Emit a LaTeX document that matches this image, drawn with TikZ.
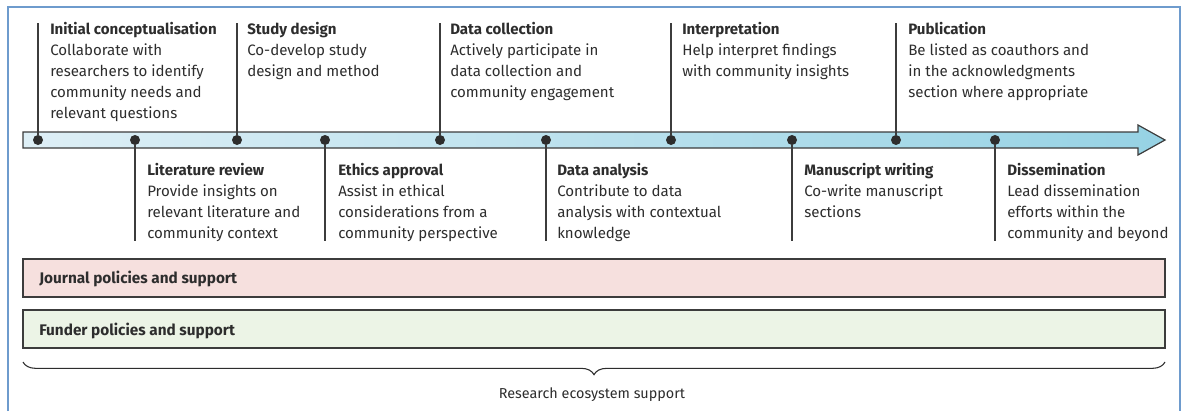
\documentclass[tikz,border=0pt]{standalone}
\usepackage{fontspec}
\setmainfont{Fira Sans}
\usetikzlibrary{decorations.pathreplacing}

\definecolor{frameblue}{RGB}{110,155,205}
\definecolor{arrowlight}{RGB}{222,239,246}
\definecolor{arrowdark}{RGB}{150,210,228}
\definecolor{ink}{RGB}{45,45,45}
\definecolor{stemgray}{RGB}{60,60,60}
\definecolor{journalpink}{RGB}{246,224,222}
\definecolor{funderleaf}{RGB}{236,244,230}

\tikzset{
  dot/.style={circle, fill=ink, inner sep=0pt, minimum size=7.5pt},
  stem/.style={draw=stemgray, line width=0.9pt},
  stage/.style={anchor=base west, align=left, inner sep=0pt, text=ink,
    font=\fontsize{11.3}{15.7}\selectfont},
  policy/.style={draw=stemgray, line width=0.9pt},
  policytext/.style={anchor=base west, inner sep=0pt, text=ink,
    font=\fontsize{11.5}{14}\selectfont\bfseries},
}

\begin{document}
\begin{tikzpicture}[x=0.75pt, y=-0.75pt]
  \useasboundingbox (0,0) rectangle (1184,411);
  % Draw frame
  \draw[frameblue, line width=1.2pt] (8,411) -- (8,7) -- (1180,7) -- (1180,411);

  % Draw timeline arrow
  \shade[left color=arrowlight, right color=arrowdark, draw=stemgray, line width=0.9pt]
    (23,132) -- (1138,132) -- (1138,125) -- (1165,140) -- (1138,155)
    -- (1138,148) -- (23,148) -- cycle;

  % Draw dots on the timeline
  \node[dot] (d1) at (38,140) {};
  \node[dot] (d2) at (135,140) {};
  \node[dot] (d3) at (237,140) {};
  \node[dot] (d4) at (325,140) {};
  \node[dot] (d5) at (440,140) {};
  \node[dot] (d6) at (546,140) {};
  \node[dot] (d7) at (671,140) {};
  \node[dot] (d8) at (792,140) {};
  \node[dot] (d9) at (896,140) {};
  \node[dot] (d10) at (995,140) {};

  % Stem ends
  \coordinate (e1) at (38,23);
  \coordinate (e2) at (135,241);
  \coordinate (e3) at (237,23);
  \coordinate (e4) at (325,241);
  \coordinate (e5) at (440,23);
  \coordinate (e6) at (546,241);
  \coordinate (e7) at (671,23);
  \coordinate (e8) at (792,241);
  \coordinate (e9) at (896,23);
  \coordinate (e10) at (995,241);
  \draw[stem] (d1) -- (e1);
  \draw[stem] (d2) -- (e2);
  \draw[stem] (d3) -- (e3);
  \draw[stem] (d4) -- (e4);
  \draw[stem] (d5) -- (e5);
  \draw[stem] (d6) -- (e6);
  \draw[stem] (d7) -- (e7);
  \draw[stem] (d8) -- (e8);
  \draw[stem] (d9) -- (e9);
  \draw[stem] (d10) -- (e10);

  % Stages above the arrow (placed by the baseline of their last line)
  \node[stage] (s1) at (50,118) {\textbf{Initial conceptualisation}\\Collaborate with\\researchers to identify\\community needs and\\relevant questions};
  \node[stage] (s3) at (247,76) {\textbf{Study design}\\Co-develop study\\design and method};
  \node[stage] (s5) at (450,97) {\textbf{Data collection}\\Actively participate in\\data collection and\\community engagement};
  \node[stage] (s7) at (682,76) {\textbf{Interpretation}\\Help interpret findings\\with community insights};
  \node[stage] (s9) at (908,97) {\textbf{Publication}\\Be listed as coauthors and\\in the acknowledgments\\section where appropriate};

  % Stages below the arrow
  \node[stage] (s2) at (147,238.5) {\textbf{Literature review}\\Provide insights on\\relevant literature and\\community context};
  \node[stage] (s4) at (338,238.5) {\textbf{Ethics approval}\\Assist in ethical\\considerations from a\\community perspective};
  \node[stage] (s6) at (557,238.5) {\textbf{Data analysis}\\Contribute to data\\analysis with contextual\\knowledge};
  \node[stage] (s8) at (804,217.5) {\textbf{Manuscript writing}\\Co-write manuscript\\sections};
  \node[stage] (s10) at (1007,238.5) {\textbf{Dissemination}\\Lead dissemination\\efforts within the\\community and beyond};

  % Policy bands
  \draw[policy, fill=journalpink] (23,259) rectangle (1165,297);
  \node[policytext] (journal) at (39,283) {Journal policies and support};
  \draw[policy, fill=funderleaf] (23,310) rectangle (1165,348);
  \node[policytext] (funder) at (39,335) {Funder policies and support};

  % Brace under the bands
  \coordinate (bl) at (23,362);
  \coordinate (br) at (1165,362);
  \draw[ink, line width=0.8pt, decoration={brace, mirror, amplitude=9.5pt}, decorate] (bl) -- (br);
  \node[anchor=base, inner sep=0pt, text=ink, font=\fontsize{10.8}{13}\selectfont] (eco) at (592,398) {Research ecosystem support};
\end{tikzpicture}
\end{document}
